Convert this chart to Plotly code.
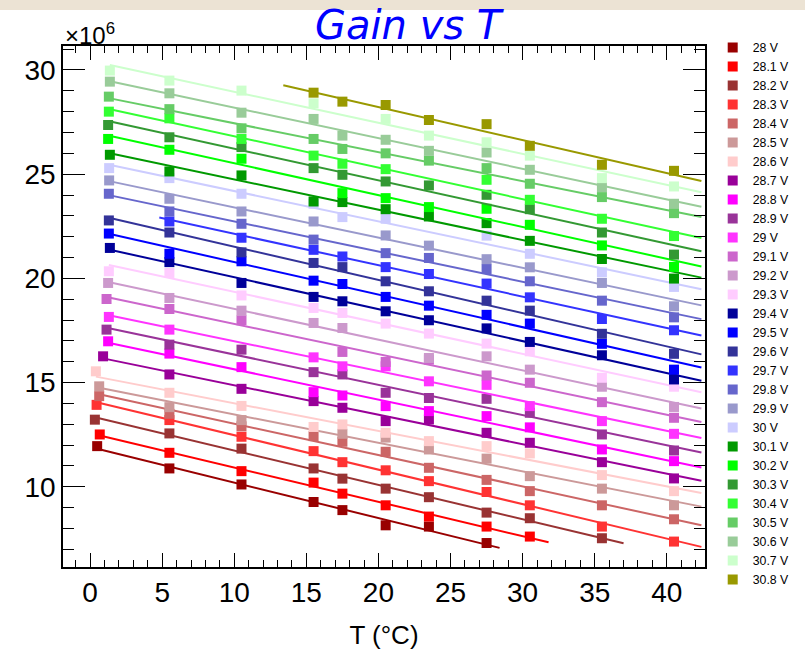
import numpy as np
import plotly.graph_objects as go

# ---------------- data (gain in units of 10^6, temperature in degC) ----------------
voltages = ["28 V", "28.1 V", "28.2 V", "28.3 V", "28.4 V", "28.5 V", "28.6 V", "28.7 V",
            "28.8 V", "28.9 V", "29 V", "29.1 V", "29.2 V", "29.3 V", "29.4 V", "29.5 V",
            "29.6 V", "29.7 V", "29.8 V", "29.9 V", "30 V", "30.1 V", "30.2 V", "30.3 V",
            "30.4 V", "30.5 V", "30.6 V", "30.7 V", "30.8 V"]

colors = ["#990000", "#ff0000", "#993333", "#ff3333", "#cc6666", "#cc9999", "#ffcccc", "#990099",
          "#ff00ff", "#993399", "#ff33ff", "#cc66cc", "#cc99cc", "#ffccff", "#000099", "#0000ff",
          "#333399", "#3333ff", "#6666cc", "#9999cc", "#ccccff", "#009900", "#00ff00", "#339933",
          "#33ff33", "#66cc66", "#99cc99", "#ccffcc", "#999900"]

t_2800 = [0.49, 5.5, 10.5, 15.5, 17.5, 20.5, 23.5, 27.5]
g_2800 = [11.95, 10.88, 10.11, 9.27, 8.88, 8.15, 8.09, 7.30]
t_2810 = [0.67, 5.5, 10.5, 15.5, 17.5, 20.5, 23.5, 27.5, 30.5]
g_2810 = [12.51, 11.63, 10.75, 10.20, 9.67, 9.11, 8.57, 8.09, 7.61]
t_2820 = [0.33, 5.5, 10.5, 15.5, 17.5, 20.5, 23.5, 27.5, 30.5, 35.5]
g_2820 = [13.22, 12.56, 11.83, 10.88, 10.39, 9.91, 9.50, 8.76, 8.49, 7.53]
t_2830 = [0.45, 5.5, 10.5, 15.5, 17.5, 20.5, 23.5, 27.5, 30.5, 35.5, 40.5]
g_2830 = [13.93, 13.20, 12.40, 11.71, 11.18, 10.79, 10.27, 9.75, 9.11, 8.09, 7.37]
t_2840 = [0.63, 5.5, 10.5, 15.5, 17.5, 20.5, 23.5, 27.5, 30.5, 35.5, 40.5]
g_2840 = [14.35, 13.50, 12.90, 12.43, 12.16, 11.68, 10.91, 10.33, 9.79, 9.11, 8.44]
t_2850 = [0.63, 5.5, 10.5, 17.5, 20.5, 23.5, 27.5, 30.5, 35.5, 40.5]
g_2850 = [14.82, 13.82, 13.20, 12.54, 12.36, 11.79, 11.35, 10.51, 9.91, 9.11]
t_2860 = [0.40, 5.5, 10.5, 15.5, 17.5, 20.5, 23.5, 27.5, 30.5, 35.5, 40.5]
g_2860 = [15.54, 14.51, 13.88, 12.87, 12.99, 12.59, 12.19, 11.95, 11.60, 10.56, 9.79]
t_2870 = [0.90, 5.5, 10.5, 15.5, 17.5, 20.5, 23.5, 27.5, 30.5, 35.5, 40.5]
g_2870 = [16.26, 15.39, 14.70, 14.11, 13.79, 13.15, 13.23, 12.59, 12.11, 11.18, 10.40]
t_2880 = [1.25, 5.5, 10.5, 15.5, 17.5, 20.5, 23.5, 27.5, 30.5, 35.5, 40.5]
g_2880 = [16.98, 16.39, 15.74, 14.54, 14.38, 13.87, 13.63, 13.39, 12.85, 11.79, 11.23]
t_2890 = [1.14, 5.5, 10.5, 15.5, 17.5, 20.5, 23.5, 27.5, 30.5, 35.5, 40.5]
g_2890 = [17.54, 16.82, 16.58, 15.50, 15.39, 14.51, 14.26, 14.22, 13.55, 12.51, 11.74]
t_2900 = [1.30, 5.5, 15.5, 17.5, 20.5, 23.5, 27.5, 30.5, 35.5, 40.5]
g_2900 = [18.15, 17.54, 16.21, 15.78, 15.78, 15.06, 14.89, 13.87, 13.15, 12.54]
t_2910 = [1.14, 5.5, 10.5, 17.5, 20.5, 23.5, 27.5, 30.5, 35.5, 40.5]
g_2910 = [19.01, 18.53, 17.99, 16.47, 15.99, 16.10, 15.34, 14.99, 14.06, 13.31]
t_2920 = [1.25, 5.5, 10.5, 15.5, 17.5, 23.5, 27.5, 30.5, 35.5, 40.5]
g_2920 = [19.78, 19.06, 18.45, 17.86, 17.62, 16.18, 16.26, 15.62, 14.80, 13.83]
t_2930 = [1.30, 5.5, 10.5, 15.5, 17.5, 20.5, 23.5, 27.5, 30.5, 35.5, 40.5]
g_2930 = [20.34, 20.26, 19.18, 18.58, 18.34, 17.83, 17.35, 16.87, 16.50, 15.23, 14.80]
t_2940 = [1.37, 5.5, 10.5, 15.5, 17.5, 20.5, 23.5, 27.5, 30.5, 35.5, 40.5]
g_2940 = [21.46, 20.78, 19.78, 19.11, 18.90, 18.42, 17.99, 17.60, 16.95, 16.31, 15.15]
t_2950 = [1.30, 5.5, 10.5, 15.5, 17.5, 20.5, 23.5, 27.5, 30.5, 35.5, 40.5]
g_2950 = [22.15, 21.18, 20.82, 19.89, 19.73, 19.11, 18.69, 18.25, 17.83, 16.86, 15.62]
t_2960 = [1.30, 5.5, 10.5, 15.5, 17.5, 20.5, 23.5, 27.5, 30.5, 35.5, 40.5]
g_2960 = [22.78, 22.20, 21.25, 20.74, 20.54, 19.86, 19.38, 18.93, 18.45, 17.34, 16.38]
t_2970 = [5.5, 10.5, 15.5, 17.5, 20.5, 23.5, 27.5, 30.5, 35.5, 40.5]
g_2970 = [22.73, 21.95, 21.37, 21.05, 20.54, 20.21, 19.75, 19.09, 18.05, 17.51]
t_2980 = [1.30, 5.5, 10.5, 15.5, 20.5, 23.5, 27.5, 30.5, 35.5, 40.5]
g_2980 = [24.06, 23.21, 22.62, 21.86, 21.21, 20.98, 20.45, 19.86, 18.93, 18.13]
t_2990 = [1.32, 5.5, 10.5, 15.5, 20.5, 23.5, 27.5, 30.5, 35.5, 40.5]
g_2990 = [24.70, 23.82, 23.21, 22.73, 22.06, 21.57, 20.92, 20.53, 19.78, 18.66]
t_3000 = [1.32, 5.5, 10.5, 15.5, 17.5, 20.5, 27.5, 30.5, 35.5, 40.5]
g_3000 = [25.29, 24.81, 24.06, 23.58, 22.94, 22.86, 22.05, 21.18, 20.29, 19.59]
t_3010 = [1.37, 5.5, 10.5, 15.5, 17.5, 20.5, 23.5, 27.5, 30.5, 35.5, 40.5]
g_3010 = [25.93, 25.13, 24.94, 23.69, 23.66, 23.32, 22.97, 22.65, 21.80, 20.93, 19.99]
t_3020 = [1.25, 5.5, 10.5, 17.5, 20.5, 23.5, 27.5, 30.5, 35.5, 40.5]
g_3020 = [26.69, 26.17, 25.74, 24.09, 23.85, 23.42, 23.34, 22.57, 21.58, 20.55]
t_3030 = [1.25, 5.5, 10.5, 15.5, 17.5, 20.5, 23.5, 27.5, 30.5, 35.5, 40.5]
g_3030 = [27.36, 26.77, 26.30, 25.29, 24.97, 24.65, 24.46, 24.01, 23.32, 22.20, 21.14]
t_3040 = [1.30, 5.5, 10.5, 15.5, 17.5, 20.5, 27.5, 30.5, 35.5, 40.5]
g_3040 = [28.00, 27.68, 26.69, 25.89, 25.50, 25.24, 24.73, 23.77, 22.86, 22.03]
t_3050 = [1.30, 5.5, 10.5, 15.5, 17.5, 20.5, 23.5, 27.5, 30.5, 35.5, 40.5]
g_3050 = [28.72, 28.12, 27.20, 26.69, 26.21, 26.00, 25.65, 25.29, 24.54, 23.90, 23.13]
t_3060 = [1.37, 5.5, 10.5, 15.5, 17.5, 20.5, 23.5, 27.5, 30.5, 35.5, 40.5]
g_3060 = [29.44, 28.88, 27.95, 27.65, 26.85, 26.65, 26.12, 26.04, 25.21, 24.38, 23.58]
t_3070 = [1.37, 5.5, 10.5, 15.5, 20.5, 23.5, 27.5, 30.5, 35.5, 40.5]
g_3070 = [29.97, 29.49, 29.01, 28.40, 27.65, 26.85, 26.53, 25.89, 24.81, 24.41]
t_3080 = [15.5, 17.5, 20.5, 23.5, 27.5, 30.5, 35.5, 40.5]
g_3080 = [28.91, 28.48, 28.32, 27.60, 27.40, 26.36, 25.45, 25.16]

# fit ranges (degC) of the linear fits drawn over each series
fit_lo = [0.49, 0.67, 0.33, 0.45, 0.63, 0.63, 0.40, 0.90, 1.25, 1.14, 1.30, 1.14, 1.25, 1.30,
          1.37, 1.30, 1.30, 4.8, 1.30, 1.32, 1.32, 1.37, 1.25, 1.25, 1.30, 1.30, 1.37, 1.37, 13.4]
fit_hi = [28.4, 31.8, 37.0] + [42.4] * 26

temps = [t_2800, t_2810, t_2820, t_2830, t_2840, t_2850, t_2860, t_2870, t_2880, t_2890,
         t_2900, t_2910, t_2920, t_2930, t_2940, t_2950, t_2960, t_2970, t_2980, t_2990,
         t_3000, t_3010, t_3020, t_3030, t_3040, t_3050, t_3060, t_3070, t_3080]
gains = [g_2800, g_2810, g_2820, g_2830, g_2840, g_2850, g_2860, g_2870, g_2880, g_2890,
         g_2900, g_2910, g_2920, g_2930, g_2940, g_2950, g_2960, g_2970, g_2980, g_2990,
         g_3000, g_3010, g_3020, g_3030, g_3040, g_3050, g_3060, g_3070, g_3080]

x_ticks = [0, 5, 10, 15, 20, 25, 30, 35, 40]
y_ticks = [10, 15, 20, 25, 30]

# ---------------- figure ----------------
fig = go.Figure()
for name, col, t, g, lo, hi in zip(voltages, colors, temps, gains, fit_lo, fit_hi):
    slope, icpt = np.polyfit(t, g, 1)
    xf = np.array([lo, hi])
    fig.add_trace(go.Scatter(x=xf, y=slope * xf + icpt, mode="lines",
                             line=dict(color=col, width=2), showlegend=False,
                             legendgroup=name, hoverinfo="skip"))
    fig.add_trace(go.Scatter(x=t, y=g, mode="markers", name=name, legendgroup=name,
                             marker=dict(symbol="square", size=10, color=col,
                                         line=dict(width=0))))

font_main = "Liberation Sans, Arial, sans-serif"
axis_common = dict(showline=True, linecolor="black", linewidth=1.5, mirror="ticks",
                   ticks="inside", tickcolor="black", showgrid=False, zeroline=False,
                   automargin=False,
                   tickfont=dict(family=font_main, size=28, color="black"))

fig.update_xaxes(range=[-1.88, 42.65], tickvals=x_ticks, ticklen=14,
                 minor=dict(dtick=1, ticklen=7, ticks="inside", tickcolor="black", showgrid=False),
                 title=dict(text="T (°C)", font=dict(family=font_main, size=26, color="black"),
                            standoff=18),
                 **axis_common)
fig.update_yaxes(range=[6.15, 31.15], tickvals=y_ticks, ticklen=22,
                 minor=dict(dtick=1, ticklen=11, ticks="inside", tickcolor="black", showgrid=False),
                 **axis_common)

fig.update_layout(
    width=805, height=658,
    margin=dict(l=63, r=100, t=46, b=91, autoexpand=False),
    paper_bgcolor="white", plot_bgcolor="white",
    showlegend=True,
    legend=dict(x=1.012, xanchor="left", y=1.025, yanchor="top",
                font=dict(family=font_main, size=12.3, color="black"),
                bgcolor="rgba(0,0,0,0)", borderwidth=0, tracegroupgap=0,
                itemwidth=30, maxheight=640),
    title=dict(text="<i>Gain vs T</i>", x=0.507, xanchor="center", y=0.962, yanchor="middle",
               font=dict(family="DejaVu Sans, sans-serif", size=40, color="#0000ff")),
    annotations=[dict(text="×10<sup>6</sup>", xref="paper", yref="paper", x=0.0, y=0.99,
                      xanchor="left", yanchor="bottom", showarrow=False,
                      font=dict(family=font_main, size=24, color="black"))],
    shapes=[dict(type="rect", xref="paper", yref="paper", x0=-0.2, x1=1.3,
                 y0=1 + 36 / 521, y1=1 + 46 / 521, line=dict(width=0),
                 fillcolor="#ece3d4", layer="below")],
)

fig.write_html("out.html")
